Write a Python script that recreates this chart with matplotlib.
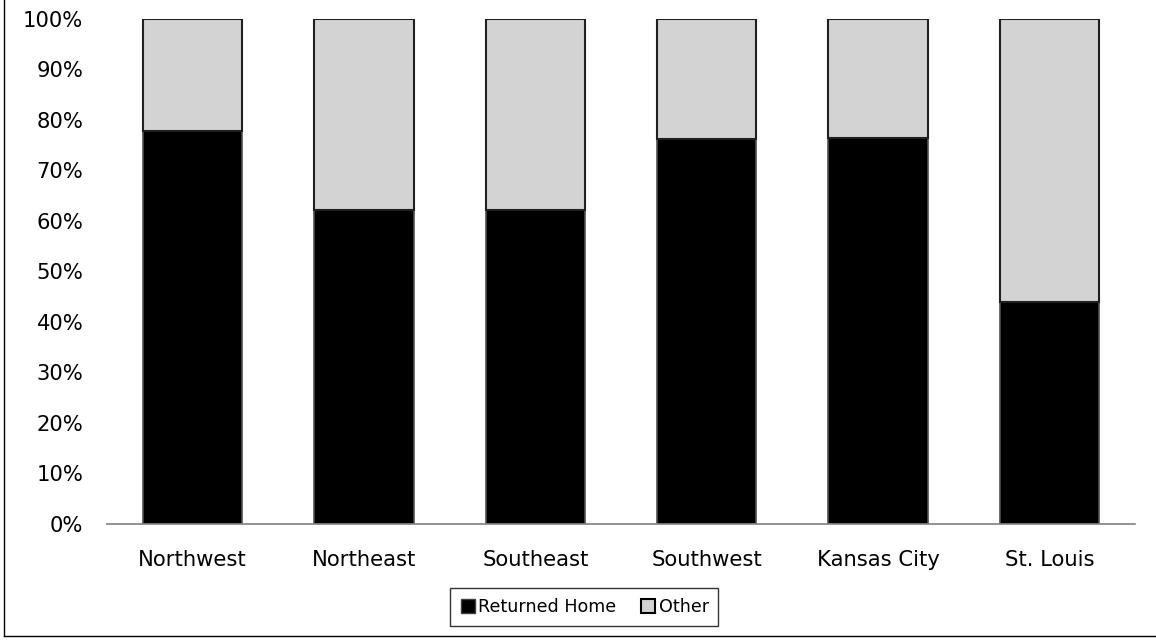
import matplotlib.pyplot as plt
from matplotlib.ticker import PercentFormatter
from matplotlib.lines import Line2D

REGIONS = ['Northwest', 'Northeast', 'Southeast', 'Southwest', 'Kansas City', 'St. Louis']
RETURNED_HOME = [77.8, 62.2, 62.2, 76.3, 76.5, 44.0]
OTHER = [100 - v for v in RETURNED_HOME]

plt.rcParams['font.family'] = ['DejaVu Sans']
plt.rcParams['font.size'] = 12

fig = plt.figure(figsize=(11.56, 6.41), dpi=100)
ax = fig.add_axes([107 / 1156, 1 - 524 / 641, 1028 / 1156, 505 / 641])

x = range(len(REGIONS))
ax.bar(x, RETURNED_HOME, width=0.58, color='black', edgecolor='#505050', linewidth=1.2,
       label='Returned Home')
ax.bar(x, OTHER, width=0.58, bottom=RETURNED_HOME, color='#d3d3d3', edgecolor='#202020',
       linewidth=1.5, label='Other')

ax.set_xlim(-0.5, len(REGIONS) - 0.5)
ax.set_ylim(0, 100)
ax.set_yticks(range(0, 101, 10))
ax.yaxis.set_major_formatter(PercentFormatter(decimals=0))
ax.set_xticks(list(x))
ax.set_xticklabels(REGIONS)
ax.tick_params(axis='both', length=0, labelsize=15.2)
ax.tick_params(axis='y', pad=17)
ax.tick_params(axis='x', pad=19)
for s in ['top', 'right', 'left']:
    ax.spines[s].set_visible(False)
ax.spines['bottom'].set_color('#808080')
ax.spines['bottom'].set_linewidth(1.2)

handles = [Line2D([], [], marker='s', linestyle='none', markersize=10,
                  markerfacecolor='black', markeredgecolor='#404040'),
           Line2D([], [], marker='s', linestyle='none', markersize=10,
                  markerfacecolor='#d3d3d3', markeredgecolor='black', markeredgewidth=1.5)]
leg = fig.legend(handles, ['Returned Home', 'Other'], loc='center',
                 bbox_to_anchor=(584 / 1156, 1 - 607 / 641), ncol=2, fancybox=False,
                 frameon=True, edgecolor='black', handletextpad=0.1, columnspacing=1.3,
                 handlelength=1.0, borderpad=0.55, borderaxespad=0, fontsize=12.6)
leg.get_frame().set_linewidth(1.0)

# outer chart frame
fig.add_artist(Line2D([4 / 1156, 4 / 1156], [1 - 636 / 641, 1], color='black', lw=1.0))
fig.add_artist(Line2D([4 / 1156, 1], [1 - 636 / 641, 1 - 636 / 641], color='black', lw=1.0))

fig.savefig('out.png', dpi=100)
